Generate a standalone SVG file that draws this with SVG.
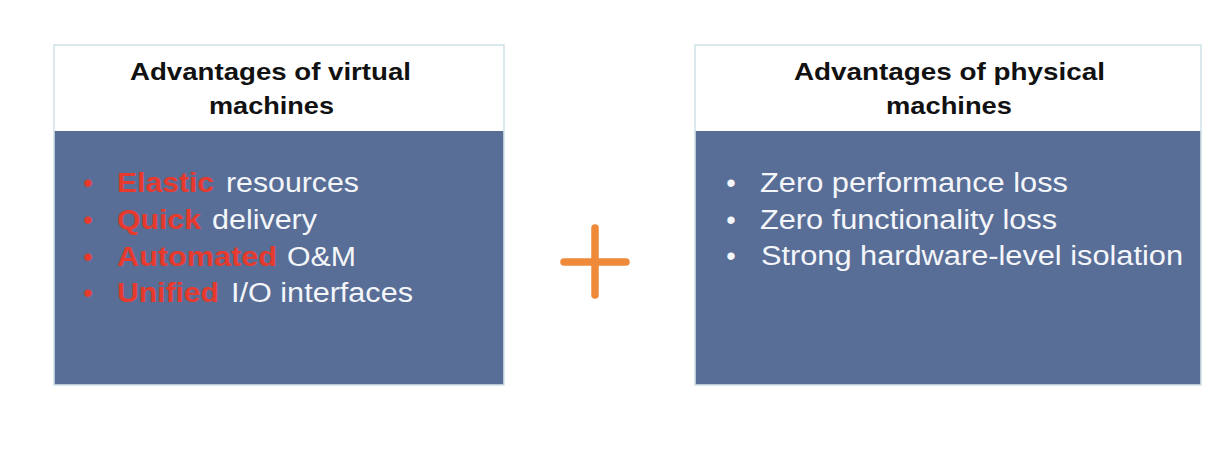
<svg xmlns="http://www.w3.org/2000/svg" width="1230" height="452" viewBox="0 0 1230 452">
<style>
.frame{fill:#ffffff;stroke:#cfe2e6;stroke-width:1.5}
.body{fill:#596e97}
.title{font-family:"Liberation Sans",Arial,sans-serif;font-weight:bold;font-size:24px;fill:#111111}
.item{font-family:"Liberation Sans",Arial,sans-serif;font-size:27px;fill:#f4f6fa}
.hi{font-family:"Liberation Sans",Arial,sans-serif;font-size:27px;font-weight:bold;fill:#e53a2d}
.bul{font-family:"Liberation Sans",Arial,sans-serif;font-size:27px;text-anchor:middle}
.plus{stroke:#ee8a3a;stroke-width:7.5;stroke-linecap:round;fill:none}
</style>
<rect width="1230" height="452" fill="#ffffff"/>
<g id="vm">
<rect class="frame" x="54" y="45" width="450" height="340"/>
<rect class="body" x="54.75" y="131" width="448.5" height="253.25"/>
<text class="title" x="130" y="80" textLength="281" lengthAdjust="spacingAndGlyphs">Advantages of virtual</text>
<text class="title" x="209" y="114" textLength="125" lengthAdjust="spacingAndGlyphs">machines</text>
<text class="bul" x="88" y="192" fill="#e53a2d">•</text>
<text class="bul" x="88" y="229" fill="#e53a2d">•</text>
<text class="bul" x="88" y="266" fill="#e53a2d">•</text>
<text class="bul" x="88" y="302" fill="#e53a2d">•</text>
<text class="hi" x="117" y="192" textLength="97" lengthAdjust="spacingAndGlyphs">Elastic</text>
<text class="item" x="226" y="192" textLength="133" lengthAdjust="spacingAndGlyphs">resources</text>
<text class="hi" x="117" y="229" textLength="84" lengthAdjust="spacingAndGlyphs">Quick</text>
<text class="item" x="212" y="229" textLength="105" lengthAdjust="spacingAndGlyphs">delivery</text>
<text class="hi" x="117" y="266" textLength="160" lengthAdjust="spacingAndGlyphs">Automated</text>
<text class="item" x="287" y="266" textLength="69" lengthAdjust="spacingAndGlyphs">O&amp;M</text>
<text class="hi" x="117" y="302" textLength="102" lengthAdjust="spacingAndGlyphs">Unified</text>
<text class="item" x="231" y="302" textLength="182" lengthAdjust="spacingAndGlyphs">I/O interfaces</text>
</g>
<g id="plus">
<line class="plus" x1="595" y1="228" x2="595" y2="295"/>
<line class="plus" x1="564" y1="262" x2="626" y2="262"/>
</g>
<g id="pm">
<rect class="frame" x="695" y="45" width="506" height="340"/>
<rect class="body" x="695.75" y="131" width="504.5" height="253.25"/>
<text class="title" x="794" y="80" textLength="311" lengthAdjust="spacingAndGlyphs">Advantages of physical</text>
<text class="title" x="886" y="114" textLength="126" lengthAdjust="spacingAndGlyphs">machines</text>
<text class="bul" x="731" y="192" fill="#f4f6fa">•</text>
<text class="bul" x="731" y="229" fill="#f4f6fa">•</text>
<text class="bul" x="731" y="265" fill="#f4f6fa">•</text>
<text class="item" x="760" y="192" textLength="308" lengthAdjust="spacingAndGlyphs">Zero performance loss</text>
<text class="item" x="760" y="229" textLength="297" lengthAdjust="spacingAndGlyphs">Zero functionality loss</text>
<text class="item" x="761" y="265" textLength="422" lengthAdjust="spacingAndGlyphs">Strong hardware-level isolation</text>
</g>
<g id="connectors"/>
</svg>
